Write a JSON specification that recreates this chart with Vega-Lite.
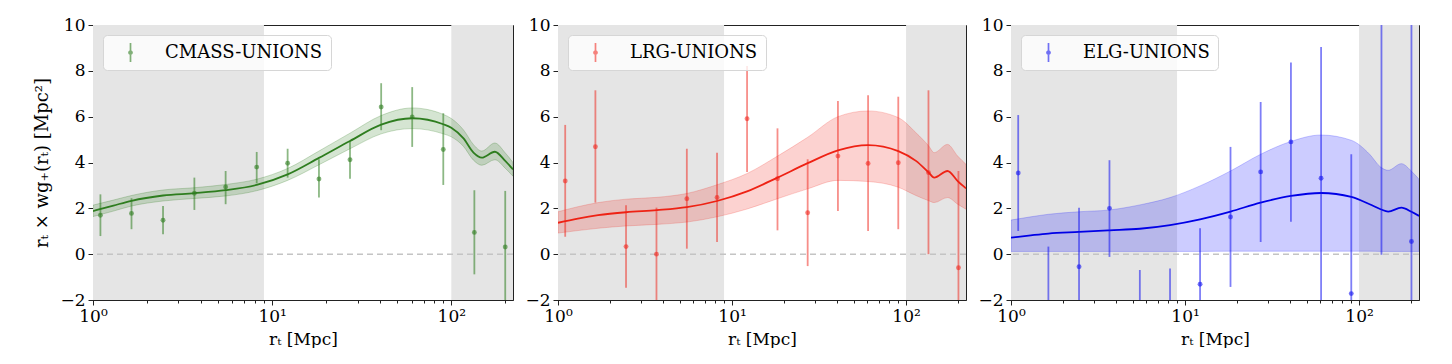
{
  "$schema": "https://vega.github.io/schema/vega-lite/v6.json",
  "padding": {"left": 33, "top": 15, "right": 0, "bottom": 0},
  "autosize": {"type": "pad"},
  "spacing": 45,
  "bounds": "flush",
  "config": {
    "font": "DejaVu Serif",
    "view": {"stroke": "#222222", "strokeWidth": 1},
    "axis": {"labelFont": "DejaVu Serif", "labelFontSize": 17, "titleFont": "DejaVu Serif", "titleFontSize": 17, "titleFontWeight": "normal", "labelColor": "black", "titleColor": "black", "domainColor": "#222222", "tickColor": "#222222", "grid": false, "labelPadding": 3},
    "legend": {"labelFont": "DejaVu Serif", "labelFontSize": 18, "labelColor": "black", "labelLimit": 400}
  },
  "resolve": {"scale": {"color": "independent", "x": "independent", "y": "independent"}, "legend": {"color": "independent"}},
  "datasets": {
    "shade": [{"r": 1, "r2": 9}, {"r": 100, "r2": 221}],
    "cmass_pts": [
      {"r": 1.1, "y": 1.70, "lo": 0.79, "hi": 2.61, "name": "CMASS-UNIONS"},
      {"r": 1.64, "y": 1.78, "lo": 1.09, "hi": 2.44, "name": "CMASS-UNIONS"},
      {"r": 2.46, "y": 1.48, "lo": 0.87, "hi": 2.10, "name": "CMASS-UNIONS"},
      {"r": 3.68, "y": 2.66, "lo": 1.93, "hi": 3.34, "name": "CMASS-UNIONS"},
      {"r": 5.5, "y": 2.93, "lo": 2.18, "hi": 3.63, "name": "CMASS-UNIONS"},
      {"r": 8.2, "y": 3.80, "lo": 3.09, "hi": 4.46, "name": "CMASS-UNIONS"},
      {"r": 12.2, "y": 3.97, "lo": 3.34, "hi": 4.60, "name": "CMASS-UNIONS"},
      {"r": 18.25, "y": 3.28, "lo": 2.47, "hi": 4.14, "name": "CMASS-UNIONS"},
      {"r": 27.2, "y": 4.12, "lo": 3.29, "hi": 4.94, "name": "CMASS-UNIONS"},
      {"r": 40.6, "y": 6.42, "lo": 5.41, "hi": 7.46, "name": "CMASS-UNIONS"},
      {"r": 60.5, "y": 5.99, "lo": 4.68, "hi": 7.29, "name": "CMASS-UNIONS"},
      {"r": 90.2, "y": 4.57, "lo": 3.02, "hi": 6.15, "name": "CMASS-UNIONS"},
      {"r": 134.5, "y": 0.95, "lo": -0.88, "hi": 2.79, "name": "CMASS-UNIONS"},
      {"r": 200, "y": 0.31, "lo": -2.2, "hi": 2.76, "name": "CMASS-UNIONS"}
    ],
    "cmass_fit": [
      {"r": 1.0, "m": 1.88, "lo": 1.64, "hi": 2.14},
      {"r": 1.3, "m": 2.12, "lo": 1.88, "hi": 2.36},
      {"r": 1.64, "m": 2.33, "lo": 2.10, "hi": 2.56},
      {"r": 2.46, "m": 2.56, "lo": 2.32, "hi": 2.80},
      {"r": 3.68, "m": 2.66, "lo": 2.43, "hi": 2.90},
      {"r": 5.5, "m": 2.79, "lo": 2.54, "hi": 3.04},
      {"r": 8.2, "m": 3.02, "lo": 2.77, "hi": 3.27},
      {"r": 12.2, "m": 3.48, "lo": 3.22, "hi": 3.74},
      {"r": 18.25, "m": 4.20, "lo": 3.90, "hi": 4.50},
      {"r": 27.2, "m": 4.94, "lo": 4.60, "hi": 5.28},
      {"r": 40.6, "m": 5.65, "lo": 5.25, "hi": 6.05},
      {"r": 60.5, "m": 5.93, "lo": 5.48, "hi": 6.38},
      {"r": 90.2, "m": 5.67, "lo": 5.25, "hi": 6.10},
      {"r": 100, "m": 5.52, "lo": 5.12, "hi": 5.92},
      {"r": 117, "m": 5.05, "lo": 4.70, "hi": 5.42},
      {"r": 133, "m": 4.43, "lo": 4.10, "hi": 4.78},
      {"r": 148, "m": 4.21, "lo": 3.88, "hi": 4.50},
      {"r": 175, "m": 4.47, "lo": 4.12, "hi": 4.85},
      {"r": 200, "m": 4.07, "lo": 3.75, "hi": 4.42},
      {"r": 221, "m": 3.70, "lo": 3.40, "hi": 4.00}
    ],
    "lrg_pts": [
      {"r": 1.1, "y": 3.19, "lo": 0.76, "hi": 5.64, "name": "LRG-UNIONS"},
      {"r": 1.64, "y": 4.69, "lo": 2.25, "hi": 7.15, "name": "LRG-UNIONS"},
      {"r": 2.46, "y": 0.33, "lo": -1.46, "hi": 2.13, "name": "LRG-UNIONS"},
      {"r": 3.68, "y": 0.0, "lo": -2.5, "hi": 2.03, "name": "LRG-UNIONS"},
      {"r": 5.5, "y": 2.42, "lo": 0.24, "hi": 4.60, "name": "LRG-UNIONS"},
      {"r": 8.2, "y": 2.47, "lo": 0.53, "hi": 4.43, "name": "LRG-UNIONS"},
      {"r": 12.2, "y": 5.91, "lo": 3.59, "hi": 8.21, "name": "LRG-UNIONS"},
      {"r": 18.25, "y": 3.29, "lo": 1.04, "hi": 5.49, "name": "LRG-UNIONS"},
      {"r": 27.2, "y": 1.81, "lo": -0.52, "hi": 4.14, "name": "LRG-UNIONS"},
      {"r": 40.6, "y": 4.28, "lo": 1.88, "hi": 6.68, "name": "LRG-UNIONS"},
      {"r": 60.5, "y": 3.96, "lo": 1.01, "hi": 6.93, "name": "LRG-UNIONS"},
      {"r": 90.2, "y": 3.99, "lo": 1.09, "hi": 6.87, "name": "LRG-UNIONS"},
      {"r": 134.5, "y": 3.56, "lo": 0.0, "hi": 7.15, "name": "LRG-UNIONS"},
      {"r": 200, "y": -0.59, "lo": -4.8, "hi": 3.63, "name": "LRG-UNIONS"}
    ],
    "lrg_fit": [
      {"r": 1.0, "m": 1.37, "lo": 0.92, "hi": 1.85},
      {"r": 1.3, "m": 1.55, "lo": 1.03, "hi": 2.07},
      {"r": 1.7, "m": 1.70, "lo": 1.13, "hi": 2.25},
      {"r": 2.46, "m": 1.83, "lo": 1.23, "hi": 2.40},
      {"r": 3.7, "m": 1.92, "lo": 1.30, "hi": 2.48},
      {"r": 5.5, "m": 2.05, "lo": 1.40, "hi": 2.65},
      {"r": 8.2, "m": 2.32, "lo": 1.63, "hi": 3.03},
      {"r": 12.2, "m": 2.74, "lo": 1.97, "hi": 3.52},
      {"r": 18.25, "m": 3.34, "lo": 2.42, "hi": 4.28},
      {"r": 27.2, "m": 3.97, "lo": 2.85, "hi": 5.10},
      {"r": 40.6, "m": 4.53, "lo": 3.22, "hi": 6.00},
      {"r": 60.5, "m": 4.76, "lo": 3.17, "hi": 6.25},
      {"r": 90.2, "m": 4.50, "lo": 2.92, "hi": 5.96},
      {"r": 114, "m": 4.07, "lo": 2.56, "hi": 5.30},
      {"r": 135, "m": 3.56, "lo": 2.33, "hi": 4.72},
      {"r": 145, "m": 3.34, "lo": 2.25, "hi": 4.43},
      {"r": 173, "m": 3.63, "lo": 2.47, "hi": 4.79},
      {"r": 198, "m": 3.19, "lo": 2.18, "hi": 4.28},
      {"r": 221, "m": 2.87, "lo": 1.96, "hi": 3.92}
    ],
    "elg_pts": [
      {"r": 1.1, "y": 3.54, "lo": 1.01, "hi": 6.07, "name": "ELG-UNIONS"},
      {"r": 1.64, "y": -2.9, "lo": -6.1, "hi": 0.33, "name": "ELG-UNIONS"},
      {"r": 2.46, "y": -0.55, "lo": -3.1, "hi": 2.03, "name": "ELG-UNIONS"},
      {"r": 3.68, "y": 2.0, "lo": -0.12, "hi": 4.10, "name": "ELG-UNIONS"},
      {"r": 5.5, "y": -3.2, "lo": -5.7, "hi": -0.69, "name": "ELG-UNIONS"},
      {"r": 8.2, "y": -3.0, "lo": -5.4, "hi": -0.63, "name": "ELG-UNIONS"},
      {"r": 12.2, "y": -1.31, "lo": -3.75, "hi": 1.13, "name": "ELG-UNIONS"},
      {"r": 18.25, "y": 1.62, "lo": -1.43, "hi": 4.68, "name": "ELG-UNIONS"},
      {"r": 27.2, "y": 3.59, "lo": 0.53, "hi": 6.64, "name": "ELG-UNIONS"},
      {"r": 40.6, "y": 4.90, "lo": 1.42, "hi": 8.36, "name": "ELG-UNIONS"},
      {"r": 60.5, "y": 3.31, "lo": -2.42, "hi": 9.04, "name": "ELG-UNIONS"},
      {"r": 90.2, "y": -1.72, "lo": -7.8, "hi": 4.36, "name": "ELG-UNIONS"},
      {"r": 134.5, "y": 11.0, "lo": -0.03, "hi": 22.0, "name": "ELG-UNIONS"},
      {"r": 200, "y": 0.55, "lo": -12.0, "hi": 13.0, "name": "ELG-UNIONS"}
    ],
    "elg_fit": [
      {"r": 1.0, "m": 0.72, "lo": 0.12, "hi": 1.49},
      {"r": 1.3, "m": 0.82, "lo": 0.12, "hi": 1.63},
      {"r": 1.64, "m": 0.90, "lo": 0.12, "hi": 1.74},
      {"r": 2.46, "m": 0.97, "lo": 0.12, "hi": 1.85},
      {"r": 3.68, "m": 1.04, "lo": 0.12, "hi": 1.93},
      {"r": 5.5, "m": 1.11, "lo": 0.12, "hi": 2.15},
      {"r": 8.2, "m": 1.27, "lo": 0.12, "hi": 2.47},
      {"r": 12.2, "m": 1.52, "lo": 0.12, "hi": 2.98},
      {"r": 18.25, "m": 1.86, "lo": 0.13, "hi": 3.63},
      {"r": 27.2, "m": 2.25, "lo": 0.13, "hi": 4.36},
      {"r": 40.6, "m": 2.54, "lo": 0.13, "hi": 4.92},
      {"r": 60.5, "m": 2.67, "lo": 0.13, "hi": 5.20},
      {"r": 90.2, "m": 2.50, "lo": 0.13, "hi": 4.97},
      {"r": 115, "m": 2.18, "lo": 0.13, "hi": 4.36},
      {"r": 133, "m": 1.96, "lo": 0.12, "hi": 3.80},
      {"r": 147, "m": 1.86, "lo": 0.12, "hi": 3.66},
      {"r": 175, "m": 2.03, "lo": 0.12, "hi": 3.95},
      {"r": 200, "m": 1.85, "lo": 0.12, "hi": 3.62},
      {"r": 221, "m": 1.67, "lo": 0.12, "hi": 3.27}
    ]
  },
  "hconcat": [
    {
      "width": 420, "height": 275,
      "layer": [
        {"data": {"name": "shade"}, "mark": {"type": "rect", "color": "#e5e5e5", "clip": true},
         "encoding": {"x": {"field": "r", "type": "quantitative", "title": "rₜ [Mpc]", "scale": {"type": "log", "domain": [1, 221], "nice": false},
           "axis": {"values": [1,2,3,4,5,6,7,8,9,10,20,30,40,50,60,70,80,90,100,200], "labelExpr": "datum.value==1?'10⁰':datum.value==10?'10¹':datum.value==100?'10²':''", "tickSize": {"condition": {"test": "datum.value==1||datum.value==10||datum.value==100", "value": 5}, "value": 3}, "labelOverlap": false, "labelFlush": false, "titlePadding": 7}},
           "x2": {"field": "r2"}}},
        {"data": {"values": [{"z": 0}]}, "mark": {"type": "rule", "color": "#c4c4c4", "strokeDash": [6, 4], "strokeWidth": 1.5},
         "encoding": {"y": {"field": "z", "type": "quantitative", "title": "rₜ × wg₊(rₜ) [Mpc²]", "scale": {"domain": [-2, 10], "nice": false, "zero": false},
           "axis": {"values": [-2,0,2,4,6,8,10], "labelExpr": "datum.value<0?'−'+abs(datum.value):datum.label", "tickSize": 5, "titlePadding": 8, "titleFontSize": 18}}}},
        {"data": {"name": "cmass_fit"}, "mark": {"type": "area", "color": "#2e7d1f", "fillOpacity": 0.2, "stroke": "#2e7d1f", "strokeOpacity": 0.25, "strokeWidth": 1, "interpolate": "monotone", "clip": true},
         "encoding": {"x": {"field": "r", "type": "quantitative", "title": "rₜ [Mpc]"}, "y": {"field": "lo", "type": "quantitative", "title": "rₜ × wg₊(rₜ) [Mpc²]"}, "y2": {"field": "hi"}}},
        {"data": {"name": "cmass_fit"}, "mark": {"type": "line", "color": "#2e7d1f", "strokeWidth": 1.8, "interpolate": "monotone", "clip": true},
         "encoding": {"x": {"field": "r", "type": "quantitative", "title": "rₜ [Mpc]"}, "y": {"field": "m", "type": "quantitative", "title": "rₜ × wg₊(rₜ) [Mpc²]"}}},
        {"data": {"name": "cmass_pts"}, "mark": {"type": "rule", "color": "#2e7d1f", "opacity": 0.55, "strokeWidth": 1.8, "clip": true},
         "encoding": {"x": {"field": "r", "type": "quantitative", "title": "rₜ [Mpc]"}, "y": {"field": "lo", "type": "quantitative", "title": "rₜ × wg₊(rₜ) [Mpc²]"}, "y2": {"field": "hi"}}},
        {"data": {"name": "cmass_pts"}, "mark": {"type": "point", "shape": "circle", "filled": true, "size": 24, "opacity": 0.6, "clip": true},
         "encoding": {"x": {"field": "r", "type": "quantitative", "title": "rₜ [Mpc]"}, "y": {"field": "y", "type": "quantitative", "title": "rₜ × wg₊(rₜ) [Mpc²]"},
           "color": {"field": "name", "type": "nominal", "scale": {"range": ["#2e7d1f"]},
             "legend": {"title": null, "orient": "top-left", "offset": 10, "padding": 8, "fillColor": "rgba(255,255,255,0.8)", "strokeColor": "#d6d6d6", "cornerRadius": 4, "symbolType": "M-0.09,-1H0.09V1H-0.09Z M0.25,0A0.25,0.25 0 1,1 -0.25,0A0.25,0.25 0 1,1 0.25,0Z", "symbolSize": 361, "symbolOffset": 10, "labelOffset": 25, "symbolOpacity": 0.6, "symbolStrokeWidth": 0}}}}
      ]
    },
    {
      "width": 408, "height": 275,
      "layer": [
        {"data": {"name": "shade"}, "mark": {"type": "rect", "color": "#e5e5e5", "clip": true},
         "encoding": {"x": {"field": "r", "type": "quantitative", "title": "rₜ [Mpc]", "scale": {"type": "log", "domain": [1, 221], "nice": false},
           "axis": {"values": [1,2,3,4,5,6,7,8,9,10,20,30,40,50,60,70,80,90,100,200], "labelExpr": "datum.value==1?'10⁰':datum.value==10?'10¹':datum.value==100?'10²':''", "tickSize": {"condition": {"test": "datum.value==1||datum.value==10||datum.value==100", "value": 5}, "value": 3}, "labelOverlap": false, "labelFlush": false, "titlePadding": 7}},
           "x2": {"field": "r2"}}},
        {"data": {"values": [{"z": 0}]}, "mark": {"type": "rule", "color": "#c4c4c4", "strokeDash": [6, 4], "strokeWidth": 1.5},
         "encoding": {"y": {"field": "z", "type": "quantitative", "title": null, "scale": {"domain": [-2, 10], "nice": false, "zero": false},
           "axis": {"values": [-2,0,2,4,6,8,10], "labelExpr": "datum.value<0?'−'+abs(datum.value):datum.label", "tickSize": 5}}}},
        {"data": {"name": "lrg_fit"}, "mark": {"type": "area", "color": "#f01e14", "fillOpacity": 0.2, "stroke": "#f01e14", "strokeOpacity": 0.2, "strokeWidth": 1, "interpolate": "monotone", "clip": true},
         "encoding": {"x": {"field": "r", "type": "quantitative", "title": "rₜ [Mpc]"}, "y": {"field": "lo", "type": "quantitative", "title": null}, "y2": {"field": "hi"}}},
        {"data": {"name": "lrg_fit"}, "mark": {"type": "line", "color": "#ee2214", "strokeWidth": 1.8, "interpolate": "monotone", "clip": true},
         "encoding": {"x": {"field": "r", "type": "quantitative", "title": "rₜ [Mpc]"}, "y": {"field": "m", "type": "quantitative", "title": null}}},
        {"data": {"name": "lrg_pts"}, "mark": {"type": "rule", "color": "#f01e14", "opacity": 0.5, "strokeWidth": 1.8, "clip": true},
         "encoding": {"x": {"field": "r", "type": "quantitative", "title": "rₜ [Mpc]"}, "y": {"field": "lo", "type": "quantitative", "title": null}, "y2": {"field": "hi"}}},
        {"data": {"name": "lrg_pts"}, "mark": {"type": "point", "shape": "circle", "filled": true, "size": 24, "opacity": 0.55, "clip": true},
         "encoding": {"x": {"field": "r", "type": "quantitative", "title": "rₜ [Mpc]"}, "y": {"field": "y", "type": "quantitative", "title": null},
           "color": {"field": "name", "type": "nominal", "scale": {"range": ["#f01e14"]},
             "legend": {"title": null, "orient": "top-left", "offset": 10, "padding": 8, "fillColor": "rgba(255,255,255,0.8)", "strokeColor": "#d6d6d6", "cornerRadius": 4, "symbolType": "M-0.09,-1H0.09V1H-0.09Z M0.25,0A0.25,0.25 0 1,1 -0.25,0A0.25,0.25 0 1,1 0.25,0Z", "symbolSize": 361, "symbolOffset": 10, "labelOffset": 25, "symbolOpacity": 0.55, "symbolStrokeWidth": 0}}}}
      ]
    },
    {
      "width": 408, "height": 275,
      "layer": [
        {"data": {"name": "shade"}, "mark": {"type": "rect", "color": "#e5e5e5", "clip": true},
         "encoding": {"x": {"field": "r", "type": "quantitative", "title": "rₜ [Mpc]", "scale": {"type": "log", "domain": [1, 221], "nice": false},
           "axis": {"values": [1,2,3,4,5,6,7,8,9,10,20,30,40,50,60,70,80,90,100,200], "labelExpr": "datum.value==1?'10⁰':datum.value==10?'10¹':datum.value==100?'10²':''", "tickSize": {"condition": {"test": "datum.value==1||datum.value==10||datum.value==100", "value": 5}, "value": 3}, "labelOverlap": false, "labelFlush": false, "titlePadding": 7}},
           "x2": {"field": "r2"}}},
        {"data": {"values": [{"z": 0}]}, "mark": {"type": "rule", "color": "#c4c4c4", "strokeDash": [6, 4], "strokeWidth": 1.5},
         "encoding": {"y": {"field": "z", "type": "quantitative", "title": null, "scale": {"domain": [-2, 10], "nice": false, "zero": false},
           "axis": {"values": [-2,0,2,4,6,8,10], "labelExpr": "datum.value<0?'−'+abs(datum.value):datum.label", "tickSize": 5}}}},
        {"data": {"name": "elg_fit"}, "mark": {"type": "area", "color": "#0000ff", "fillOpacity": 0.2, "stroke": "#0000ff", "strokeOpacity": 0.2, "strokeWidth": 1, "interpolate": "monotone", "clip": true},
         "encoding": {"x": {"field": "r", "type": "quantitative", "title": "rₜ [Mpc]"}, "y": {"field": "lo", "type": "quantitative", "title": null}, "y2": {"field": "hi"}}},
        {"data": {"name": "elg_fit"}, "mark": {"type": "line", "color": "#0000e6", "strokeWidth": 1.8, "interpolate": "monotone", "clip": true},
         "encoding": {"x": {"field": "r", "type": "quantitative", "title": "rₜ [Mpc]"}, "y": {"field": "m", "type": "quantitative", "title": null}}},
        {"data": {"name": "elg_pts"}, "mark": {"type": "rule", "color": "#1414f0", "opacity": 0.55, "strokeWidth": 1.8, "clip": true},
         "encoding": {"x": {"field": "r", "type": "quantitative", "title": "rₜ [Mpc]"}, "y": {"field": "lo", "type": "quantitative", "title": null}, "y2": {"field": "hi"}}},
        {"data": {"name": "elg_pts"}, "mark": {"type": "point", "shape": "circle", "filled": true, "size": 24, "opacity": 0.6, "clip": true},
         "encoding": {"x": {"field": "r", "type": "quantitative", "title": "rₜ [Mpc]"}, "y": {"field": "y", "type": "quantitative", "title": null},
           "color": {"field": "name", "type": "nominal", "scale": {"range": ["#1414f0"]},
             "legend": {"title": null, "orient": "top-left", "offset": 10, "padding": 8, "fillColor": "rgba(255,255,255,0.8)", "strokeColor": "#d6d6d6", "cornerRadius": 4, "symbolType": "M-0.09,-1H0.09V1H-0.09Z M0.25,0A0.25,0.25 0 1,1 -0.25,0A0.25,0.25 0 1,1 0.25,0Z", "symbolSize": 361, "symbolOffset": 10, "labelOffset": 25, "symbolOpacity": 0.6, "symbolStrokeWidth": 0}}}}
      ]
    }
  ]
}
